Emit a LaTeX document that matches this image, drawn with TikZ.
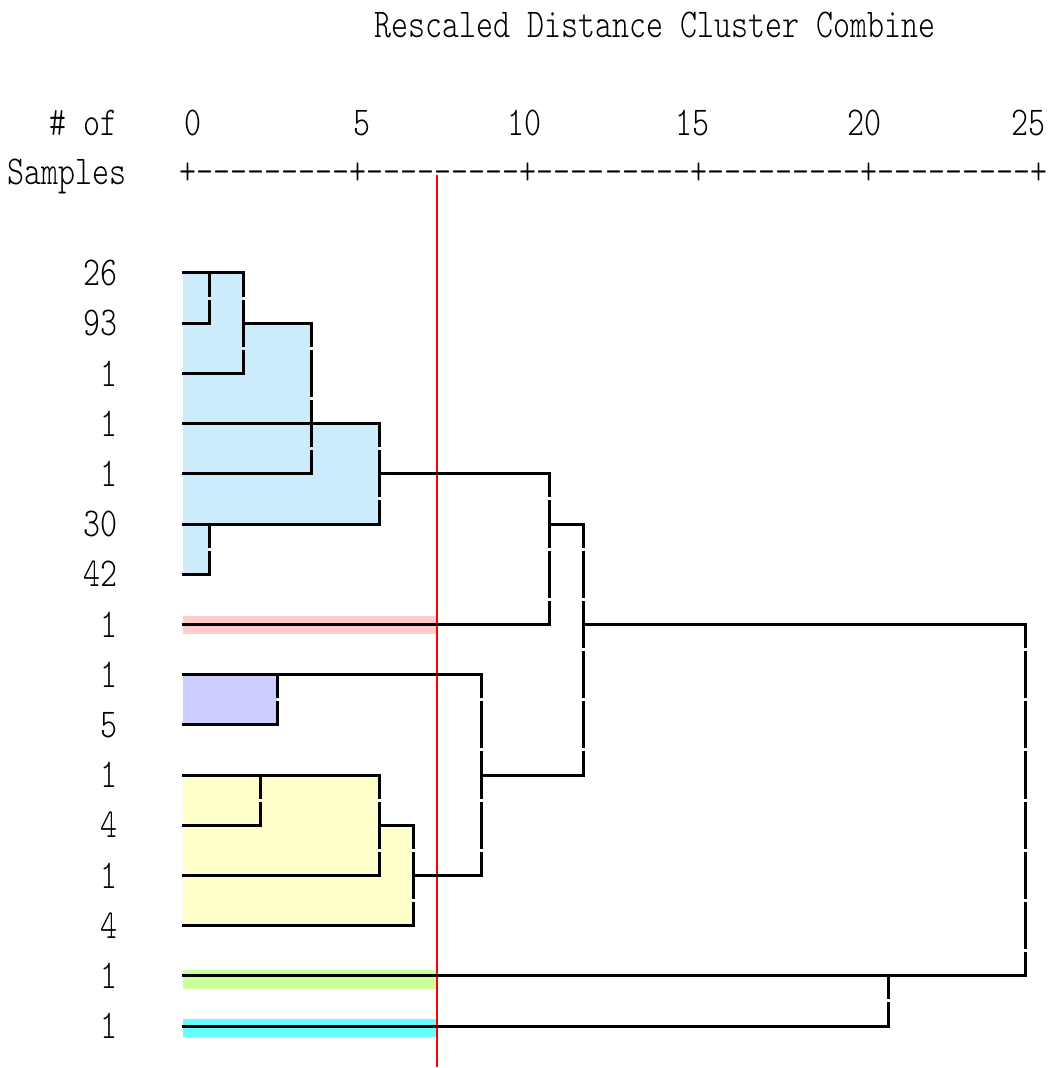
\documentclass[tikz,border=0pt]{standalone}
\usepackage{fontspec}
\newfontfamily\dendfont[FakeStretch=0.79, Ligatures=TeXOff]{lmmonolt10-regular.otf}

\definecolor{grpblue}{RGB}{204,236,252}
\definecolor{grppink}{RGB}{255,204,204}
\definecolor{grppurple}{RGB}{204,204,255}
\definecolor{grpyellow}{RGB}{255,255,204}
\definecolor{grpgreen}{RGB}{204,255,153}
\definecolor{grpcyan}{RGB}{102,255,255}

% y of a sample row
\newcommand\ry[1]{273+50.2*#1}

\begin{document}
\begin{tikzpicture}[
  x=0.5pt, y=-0.5pt,
  txt/.style = {
    inner sep=0,
    font=\dendfont\fontsize{20.5}{24}\selectfont
  },
  link/.style = {
    line width=1.5pt,
    line cap=rect
  },
  vlink/.style = {
    line width=1.5pt,
    dash pattern=on 23.6pt off 1.5pt,
    dash phase=11.8pt
  },
  cutline/.style = {
    draw=red,
    line width=0.8pt
  },
]
  \useasboundingbox (0,0) rectangle (1056,1068);

  % group shading
  \fill[grpblue] (183,{\ry{0}}) -| (243,{\ry{1}}) -| (311,{\ry{3}})
    -| (379,{\ry{5}}) -| (209,{\ry{6}}) -| (183,{\ry{0}}) -- cycle;
  \fill[grppink] (183,{\ry{7}-8}) rectangle (437,{\ry{7}+10});
  \fill[grppurple] (183,{\ry{8}}) rectangle (277,{\ry{9}});
  \fill[grpyellow] (183,{\ry{10}}) -| (379,{\ry{11}}) -| (413,{\ry{13}})
    -| (183,{\ry{10}}) -- cycle;
  \fill[grpgreen] (183,{\ry{14}-6}) rectangle (437,{\ry{14}+13});
  \fill[grpcyan] (183,{\ry{15}-7}) rectangle (437,{\ry{15}+11});

  % cut level
  \coordinate (cuttop) at (437,175);
  \coordinate (cutbot) at (437,1067);
  \draw[cutline] (cuttop) -- (cutbot);

  % texts
  \node (title)[txt, anchor=base] at (655,38) {Rescaled Distance Cluster Combine};
  \node (nof)[txt, anchor=base east] at (118,136) {\# of};
  \node (samples)[txt, anchor=base east] at (127,185) {Samples};
  \node (axis)[txt, anchor=base] at (613.5,185)
    {+---------+---------+---------+---------+---------+};
  \foreach \v/\x in {0/193,5/362,10/524,15/692,20/864,25/1028}
    \node (tick\v)[txt, anchor=base] at (\x,136) {\v};
  \foreach \n [count=\i from 0] in {26,93,1,1,1,30,42,1,1,5,1,4,1,4,1,1}
    \node (lab\i)[txt, anchor=east] at (118,{\ry{\i}}) {\n};

  % leaves and merges
  \foreach \i in {0,...,15}
    \coordinate (leaf\i) at (183,{\ry{\i}});
  \foreach \m/\x/\t/\b in {m1/209/0/1, m2/243/0/2, m3/311/1/4, m4/209/5/6,
      m5/379/3/5, m6/549/4/7, m7/277/8/9, m8/260/10/11, m9/379/10/12,
      m10/413/11/13, m11/481/8/12, m12/583/5/10, m13/888/14/15,
      m14/1025/7/14} {
    \coordinate (\m t) at (\x,{\ry{\t}});
    \coordinate (\m b) at (\x,{\ry{\b}});
    \draw[vlink] (\m t) -- (\m b);
  }
  \foreach \a/\b in {leaf0/m2t, leaf1/m1b, m2t |- leaf1/m3t, leaf2/m2b,
      leaf3/m5t, leaf4/m3b, m5t |- leaf4/m6t, leaf5/m5b, m6t |- leaf5/m12t,
      leaf6/m4b, leaf7/m6b, m12t |- leaf7/m14t, leaf8/m11t, leaf9/m7b,
      leaf10/m9t, m11t |- leaf10/m12b, leaf11/m8b, m9t |- leaf11/m10t,
      leaf12/m9b, m10t |- leaf12/m11b, leaf13/m10b, leaf14/m14b,
      leaf15/m13b}
    \draw[link] (\a) -- (\b);
\end{tikzpicture}
\end{document}
